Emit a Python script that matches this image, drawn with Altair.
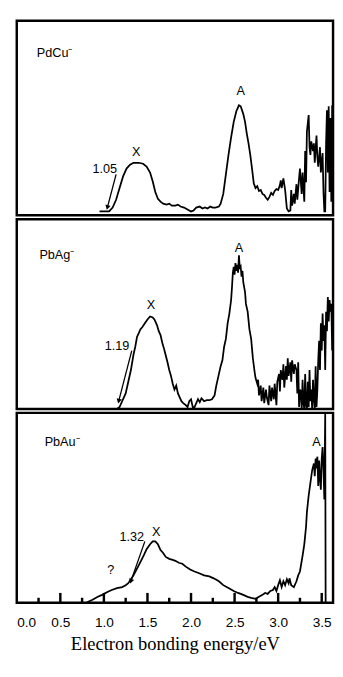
import altair as alt
import pandas as pd

# ---------------- data (energy in eV, intensity in arbitrary units) ----------------
pdcu = [(0.95,0),(1.06,0),(1.10,4),(1.14,12),(1.18,24),(1.22,36),(1.26,44),(1.30,48),(1.34,50),(1.40,50),
        (1.45,49),(1.49,46),(1.53,40),(1.56,31),(1.59,20),(1.62,13),(1.65,10),(1.68,8),(1.72,7),(1.75,8),
        (1.78,6),(1.82,6),(1.85,7),(1.88,5),(1.92,4),(1.96,2),(2.00,0),(2.03,1),(2.06,4),(2.10,5),
        (2.13,3),(2.16,4),(2.19,3),(2.22,5),(2.25,4),(2.28,4),(2.32,5),(2.34,8),(2.37,18),(2.40,38),
        (2.43,58),(2.46,76),(2.49,92),(2.52,103),(2.55,109),(2.57,108),(2.60,100),(2.62,92),(2.64,80),(2.66,70),
        (2.68,58),(2.70,44),(2.72,29),(2.74,24),(2.76,26),(2.78,21),(2.80,22),(2.82,18),(2.84,17),(2.86,14),
        (2.88,12),(2.90,15),(2.92,19),(2.94,17),(2.96,21),(2.98,23),(3.00,22),(3.02,27),(3.03,32),(3.04,24),
        (3.06,34),(3.08,22),(3.10,3),(3.12,0),(3.14,1),(3.15,22),(3.16,6),(3.18,18),(3.19,8),(3.21,28),
        (3.22,12),(3.24,34),(3.25,44),(3.27,18),(3.28,40),(3.30,10),(3.31,62),(3.32,30),(3.33,82),(3.35,99),
        (3.36,66),(3.37,58),(3.38,72),(3.40,62),(3.41,70),(3.42,50),(3.44,78),(3.45,56),(3.46,46),(3.48,66),
        (3.49,40),(3.51,60),(3.52,20),(3.53,0),(3.54,0),(3.55,70),(3.56,104),(3.57,40),(3.58,108),(3.59,20),
        (3.60,96),(3.61,10),(3.62,109),(3.63,30)]

pbag = [(1.15,0),(1.18,2),(1.21,8),(1.25,16),(1.28,28),(1.31,40),(1.34,56),(1.36,64),(1.38,74),(1.40,78),
        (1.42,82),(1.44,84),(1.47,88),(1.50,92),(1.53,95),(1.56,94),(1.58,92),(1.61,86),(1.63,80),(1.65,76),
        (1.67,68),(1.69,62),(1.71,55),(1.73,48),(1.75,40),(1.77,34),(1.79,26),(1.81,20),(1.83,24),(1.85,16),
        (1.87,12),(1.89,8),(1.91,6),(1.94,4),(1.96,2),(1.98,8),(2.00,10),(2.02,2),(2.04,2),(2.06,6),
        (2.08,10),(2.10,7),(2.12,11),(2.15,8),(2.18,9),(2.21,9),(2.24,10),(2.27,14),(2.29,24),(2.31,32),
        (2.34,44),(2.36,50),(2.38,64),(2.40,72),(2.42,88),(2.44,98),(2.46,112),(2.47,125),(2.48,140),(2.49,146),
        (2.50,138),(2.51,150),(2.52,142),(2.53,148),(2.54,140),(2.55,158),(2.56,144),(2.57,146),(2.58,136),(2.59,142),
        (2.60,130),(2.62,120),(2.63,108),(2.65,100),(2.67,82),(2.69,72),(2.71,52),(2.73,38),(2.74,32),(2.76,26),
        (2.77,30),(2.78,14),(2.80,24),(2.81,8),(2.83,22),(2.84,6),(2.86,20),(2.87,12),(2.89,4),(2.90,24),
        (2.92,8),(2.93,22),(2.95,10),(2.96,26),(2.98,4),(2.99,28),(3.01,36),(3.02,18),(3.03,40),(3.05,30),
        (3.06,46),(3.07,22),(3.09,44),(3.10,30),(3.11,52),(3.12,34),(3.14,48),(3.15,28),(3.16,50),(3.18,36),
        (3.19,46),(3.21,40),(3.22,16),(3.23,48),(3.24,2),(3.25,20),(3.26,18),(3.27,0),(3.28,30),(3.29,6),
        (3.30,0),(3.31,36),(3.32,4),(3.33,0),(3.34,28),(3.35,2),(3.36,40),(3.37,8),(3.38,20),(3.39,0),
        (3.40,30),(3.41,10),(3.42,0),(3.43,44),(3.44,2),(3.45,20),(3.46,50),(3.47,70),(3.48,40),(3.49,88),
        (3.50,60),(3.51,98),(3.52,70),(3.53,86),(3.54,40),(3.55,100),(3.56,80),(3.57,115),(3.58,90),(3.59,112),
        (3.60,100),(3.61,108),(3.62,60),(3.63,100)]

pbau = [(0.70,0),(0.76,0),(0.82,3),(0.87,5),(0.93,8),(0.98,10),(1.04,13),(1.09,15),(1.15,17),(1.21,18),
        (1.25,20),(1.28,22),(1.31,26),(1.34,30),(1.38,37),(1.42,44),(1.46,51),(1.49,57),(1.53,62),(1.56,65),
        (1.59,65),(1.62,62),(1.65,56),(1.68,53),(1.71,49),(1.75,47),(1.79,46),(1.82,45),(1.86,43),(1.90,42),
        (1.94,39),(1.99,36),(2.04,34),(2.10,32),(2.15,30),(2.21,29),(2.26,27),(2.32,24),(2.37,20),(2.43,17),
        (2.49,14),(2.54,12),(2.60,10),(2.65,8),(2.69,7),(2.74,6),(2.78,8),(2.82,10),(2.85,12),(2.88,11),
        (2.91,14),(2.94,15),(2.96,18),(2.98,14),(3.00,20),(3.02,25),(3.04,18),(3.06,24),(3.08,20),(3.10,26),
        (3.12,22),(3.13,27),(3.15,20),(3.18,18),(3.21,24),(3.23,30),(3.25,34),(3.28,50),(3.30,62),(3.32,80),
        (3.33,95),(3.35,112),(3.37,125),(3.39,138),(3.41,145),(3.42,132),(3.43,150),(3.44,140),(3.45,152),(3.46,122),
        (3.47,148),(3.48,130),(3.49,118),(3.50,150),(3.51,162),(3.52,140),(3.53,108),(3.54,197),(3.545,0),(3.63,0)]

# panel names
names = ["PdCu\u207b", "PbAg\u207b", "PbAu\u207b"]
name_e = [0.23, 0.26, 0.32]
name_h = [163, 158, 167]

# peak / threshold annotations per panel: (text, energy, intensity)
notes1 = [("X", 1.37, 61), ("A", 2.57, 124), ("1.05", 1.01, 43)]
notes2 = [("X", 1.54, 107), ("A", 2.55, 165), ("1.19", 1.15, 65)]
notes3 = [("X", 1.60, 75), ("A", 3.44, 167), ("1.32", 1.32, 69), ("?", 1.08, 35)]

# arrows: (start e, start h, end e, end h)
arrow1 = (1.14, 38, 1.04, 4)
arrow2 = (1.32, 60, 1.17, 8)
arrow3 = (1.47, 65, 1.31, 24)
arrow_angles = [15, 14, 19]

tick_labels = [0.0, 0.5, 1.0, 1.5, 2.0, 2.5, 3.0, 3.5]
major_ticks = [0.5, 1.0, 1.5, 2.0, 2.5, 3.0, 3.5]
minor_ticks = [0.25, 0.75, 1.25, 1.75, 2.25, 2.75, 3.25]

XDOM = [0, 3.63]
W = 325
SANS = "Liberation Sans"


def panel(pairs, ydom, H, idx, notes, arrow, bottom=False):
    if bottom:
        xaxis = alt.Axis(values=tick_labels, format=".1f", ticks=False, domain=False,
                         grid=False, labelFont=SANS, labelFontSize=14, labelColor="black",
                         labelPadding=13, labelFlush=True,
                         title="Electron bonding energy/eV", titleFont="Liberation Serif",
                         titleFontSize=19, titleFontWeight="normal", titleColor="black",
                         titlePadding=6)
    else:
        xaxis = None
    xs = alt.Scale(domain=XDOM, nice=False, zero=False)
    ys = alt.Scale(domain=ydom, nice=False, zero=False)
    x = alt.X("e:Q", scale=xs, axis=xaxis)
    y = alt.Y("h:Q", scale=ys, axis=None)

    spec = pd.DataFrame(pairs, columns=["e", "h"])
    line = alt.Chart(spec).mark_line(color="black", strokeWidth=1.8, clip=True).encode(x=x, y=y)

    nm = pd.DataFrame({"t": [names[idx]], "e": [name_e[idx]], "h": [name_h[idx]]})
    name_txt = alt.Chart(nm).mark_text(align="left", baseline="middle", font=SANS,
                                       fontSize=13, color="black").encode(x=x, y=y, text="t:N")

    nt = pd.DataFrame(notes, columns=["t", "e", "h"])
    note_txt = alt.Chart(nt).mark_text(align="center", baseline="middle", font=SANS,
                                       fontSize=13, color="black").encode(x=x, y=y, text="t:N")

    ar = pd.DataFrame([arrow], columns=["e", "h", "e2", "h2"])
    shaft = alt.Chart(ar).mark_rule(color="black", strokeWidth=1.3).encode(
        x=x, y=y, x2="e2:Q", y2="h2:Q")
    hd = pd.DataFrame({"e": [arrow[2]], "h": [arrow[3]]})
    head = alt.Chart(hd).mark_point(shape="triangle-down", filled=True, color="black",
                                    size=30, opacity=1, angle=arrow_angles[idx]).encode(x=x, y=y)

    layers = [line, name_txt, note_txt, shaft, head]
    if bottom:
        mj = pd.DataFrame({"e": major_ticks, "h": [ydom[0]] * len(major_ticks),
                           "h2": [ydom[0] + 10] * len(major_ticks)})
        mn = pd.DataFrame({"e": minor_ticks, "h": [ydom[0]] * len(minor_ticks),
                           "h2": [ydom[0] + 5] * len(minor_ticks)})
        layers.append(alt.Chart(mj).mark_rule(color="#000000", strokeWidth=2.5).encode(
            x=x, y=y, y2="h2:Q"))
        layers.append(alt.Chart(mn).mark_rule(color="#000000", strokeWidth=2.5).encode(
            x=x, y=y, y2="h2:Q"))
    return alt.layer(*layers).properties(width=W, height=H)


p1 = panel(pdcu, [-4, 196], 200, 0, notes1, arrow1)
p2 = panel(pbag, [0, 195], 195, 1, notes2, arrow2)
p3 = panel(pbau, [2, 197], 195, 2, notes3, arrow3, bottom=True)

chart = alt.vconcat(p1, p2, p3, spacing=0).properties(
    padding={"left": 7, "top": 2, "right": 0, "bottom": 0},
    background="white",
).configure_view(stroke="black", strokeWidth=2.5)

chart.save("out.html", embed_options={"renderer": "svg", "actions": False})
